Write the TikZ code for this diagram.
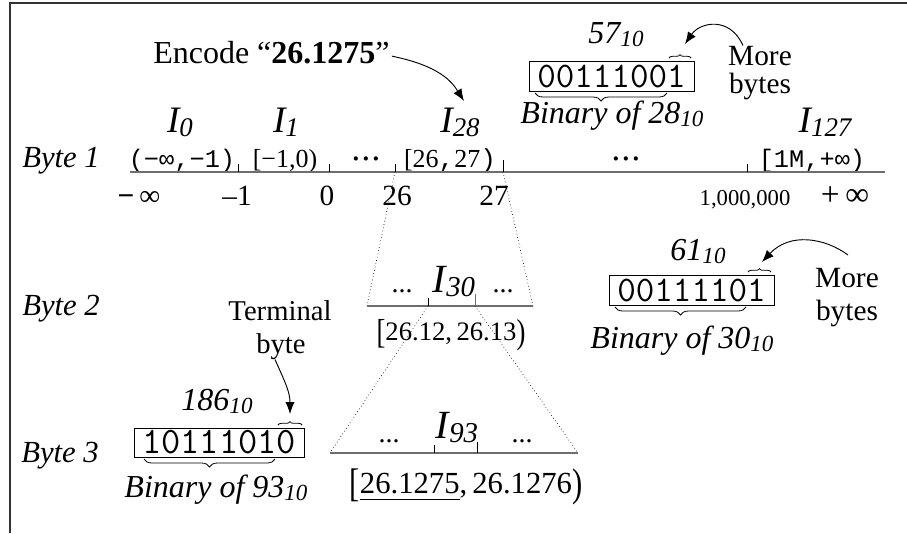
\documentclass[tikz,border=0pt]{standalone}
\usepackage{fontspec}
\usepackage{graphicx}
\setmainfont{Liberation Serif}
\newfontfamily\ivmono{Liberation Mono}
\usetikzlibrary{arrows.meta,decorations.pathreplacing}
\newcommand\fsz[1]{\fontsize{#1}{#1}\selectfont}
\newcommand\sbx[1]{\raisebox{-0.12em}{\scalebox{0.72}{#1}}}
\newcommand\tallbr[1]{\raisebox{-0.12em}{\scalebox{1}[1.3]{#1}}}
\newcommand\myul[1]{\setbox0\hbox{#1}\rlap{\raisebox{-5.5pt}{\rule{\wd0}{1.1pt}}}\box0}
\definecolor{axisc}{RGB}{110,110,110}
\definecolor{framec}{RGB}{50,50,50}
\begin{document}
\begin{tikzpicture}[x=0.75pt,y=-0.75pt,
  lbl/.style={inner sep=0pt,anchor=base},
  bytelbl/.style={lbl,anchor=base west,font=\fsz{23pt}\itshape},
  ilbl/.style={lbl,font=\fsz{28pt}\itshape},
  ivl/.style={lbl,font=\fsz{19.5pt}},
  ivltt/.style={lbl,font=\fsz{19pt}\ivmono},
  num/.style={lbl,font=\fsz{22pt}},
  dotlbl/.style={lbl,font=\fsz{21pt}},
  itnum/.style={lbl,font=\fsz{24pt}\itshape},
  note/.style={lbl,font=\fsz{22pt}},
  binbox/.style={draw,line width=0.6pt,inner sep=0pt,minimum height=22.5pt,font=\fsz{27pt}\ttfamily},
  axis/.style={draw=axisc,line width=1.4pt},
  tick/.style={draw=black,line width=0.6pt},
  funnel/.style={draw=black,line width=0.5pt,dotted},
  callout/.style={draw=black,line width=0.7pt,-{Latex[length=9pt,width=7pt]}},
  bracebelow/.style={draw=black,line width=0.6pt,decorate,decoration={brace,amplitude=6pt,mirror}},
  braceabove/.style={draw=black,line width=0.6pt,decorate,decoration={brace,amplitude=2.5pt}}
]
\useasboundingbox (0,0) rectangle (907,533);
% frame
\draw[framec,line width=1.5pt] (10,533) -- (10,3) -- (907,3);

% ---------- Byte 1 ----------
\node[lbl,anchor=base west,font=\fsz{24pt}] (enc) at (153,63) {Encode “\textbf{26.1275}”};
\node[bytelbl] (by1) at (22,167) {Byte 1};
\node[ilbl] (i0) at (180,132) {I\sbx{0}};
\node[ilbl] (i1) at (286,132) {I\sbx{1}};
\node[ilbl] (i28) at (460,132) {I\sbx{28}};
\node[ilbl] (i127) at (825,132) {I\sbx{127}};

\node[ivltt] (v0) at (182,167) {(−∞,−1)};
\node[ivl] (v1) at (285,167) {[−1,0)};
\node[ivl] (d1) at (366,167) {\textbf{·\kern1pt·\kern1pt·}};
\node[ivl] (v28) at (450,167) {[26{\ivmono,}27{\ivmono)}};
\node[ivl] (d2) at (626,167) {\textbf{·\kern1pt·\kern1pt·}};
\node[ivltt] (v127) at (812,167) {[1M,+∞)};

\coordinate (a1l) at (130,172);
\coordinate (a1r) at (885,172);
\draw[axis] (a1l) -- (a1r);
\coordinate (t1) at (238,172); \coordinate (t2) at (329,172);
\coordinate (t26) at (395,172); \coordinate (t27) at (503,172);
\coordinate (tm) at (747,172);
\foreach \t in {t1,t2,t26,tm} \draw[tick] (\t) -- ++(0,-8);
\draw[tick] (t27) -- ++(0,-12);

\node[num] (nmi) at (139,205) {\textbf{−}\,∞};
\node[num] (nm1) at (237,205) {–1};
\node[num] (n0) at (327,205) {0};
\node[num] (n26) at (397,205) {26};
\node[num] (n27) at (494,205) {27};
\node[lbl,font=\fsz{17pt}] (nm) at (745,205) {1,000,000};
\node[lbl,font=\fsz{25pt}] (npi) at (845,205) {+\,∞};

% binary box 1
\node[binbox,minimum width=123.75pt] (b1) at (611.5,76) {00111001};
\node[itnum] (d57) at (616,43) {57\sbx{10}};
\node[itnum] (bin28) at (612,123) {Binary of 28\sbx{10}};
\coordinate (b1bl) at (535,93); \coordinate (b1br) at (667,93);
\draw[bracebelow] (b1bl) -- (b1br);
\coordinate (b1al) at (669,58); \coordinate (b1ar) at (691,58);
\draw[braceabove] (b1al) -- (b1ar);
\node[note] (mb1a) at (760,65) {More};
\node[note] (mb1b) at (760,93) {bytes};
\coordinate (mb1tip) at (685,44);
\draw[callout] (mb1a.north west) ++(15,0) .. controls (730,16) and (700,22) .. (mb1tip);
\coordinate (enctip) at (464,101);
\draw[callout] (enc.east) ++(2,4) .. controls (440,66) and (452,82) .. (enctip);

% ---------- Byte 2 ----------
\node[bytelbl] (by2) at (22,315) {Byte 2};
\coordinate (a2l) at (367,306);
\coordinate (a2r) at (533,306);
\draw[funnel] (t26) -- (a2l);
\draw[funnel] (t27) -- (a2r);
\draw[axis] (a2l) -- (a2r);
\coordinate (u1) at (428,306); \coordinate (u2) at (475,306);
\draw[tick] (u1) -- ++(0,-8);
\draw[tick,draw=axisc] (u2) -- ++(0,-12);
\node[dotlbl] (e1) at (402,292) {...};
\node[dotlbl] (e2) at (503,292) {...};
\node[ilbl,font=\fsz{30pt}\itshape] (i30) at (454,292) {I\sbx{30}};
\node[lbl,font=\fsz{20pt}] (v30) at (451,340) {\tallbr{[}26.12,\,26.13\tallbr{)}};

\node[binbox,minimum width=123.75pt] (b2) at (691.5,290) {00111101};
\node[itnum] (d61) at (698,260) {61\sbx{10}};
\node[itnum] (bin30) at (682,348) {Binary of 30\sbx{10}};
\coordinate (b2bl) at (615,307); \coordinate (b2br) at (746,307);
\draw[bracebelow] (b2bl) -- (b2br);
\coordinate (b2al) at (748,272); \coordinate (b2ar) at (771,272);
\draw[braceabove] (b2al) -- (b2ar);
\node[note] (mb2a) at (847,287) {More};
\node[note] (mb2b) at (847,320) {bytes};
\coordinate (mb2s) at (848,255);
\coordinate (mb2tip) at (762,262);
\draw[callout] (mb2s) .. controls (825,238) and (790,232) .. (mb2tip);

% ---------- Byte 3 ----------
\node[bytelbl] (by3) at (21,462) {Byte 3};
\coordinate (a3l) at (330,453);
\coordinate (a3r) at (578,453);
\draw[funnel] (u1) -- (a3l);
\draw[funnel] (u2) -- (a3r);
\draw[axis] (a3l) -- (a3r);
\coordinate (w1) at (434,453); \coordinate (w2) at (477,453);
\draw[tick] (w1) -- ++(0,-8);
\draw[tick] (w2) -- ++(0,-11);
\node[dotlbl] (f1) at (389,442) {...};
\node[dotlbl] (f2) at (522,442) {...};
\node[ilbl,font=\fsz{30pt}\itshape] (i93) at (457,438) {I\sbx{93}};
\node[lbl,font=\fsz{23pt}] (v93) at (466,493) {\tallbr{[}\myul{26.1275},\,26.1276\tallbr{)}};

\node[binbox,minimum width=127.5pt,minimum height=21.75pt,font=\fsz{28pt}\ttfamily] (b3) at (219,442.5) {10111010};
\node[itnum] (d186) at (217,410) {186\sbx{10}};
\node[itnum] (bin93) at (216,497) {Binary of 93\sbx{10}};
\coordinate (b3bl) at (144,459); \coordinate (b3br) at (275,459);
\draw[bracebelow] (b3bl) -- (b3br);
\coordinate (b3al) at (278,425); \coordinate (b3ar) at (302,425);
\draw[braceabove] (b3al) -- (b3ar);
\node[lbl,font=\fsz{21.5pt}] (tb1) at (280,320) {Terminal};
\node[lbl,font=\fsz{21.5pt}] (tb2) at (281,353) {byte};
\coordinate (tbtip) at (290,414);
\draw[callout] (tb2.south) ++(-6,0) .. controls (285,382) and (290,392) .. (tbtip);
\end{tikzpicture}
\end{document}
